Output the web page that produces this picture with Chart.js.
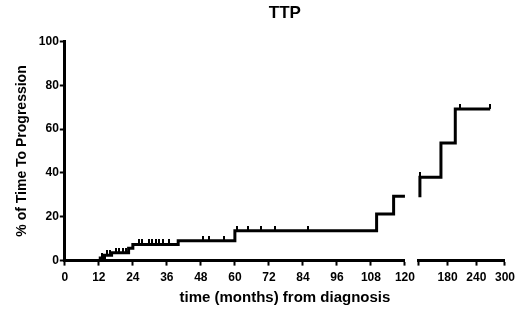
<!DOCTYPE html>
<html>
<head>
<meta charset="utf-8">
<script src="https://cdn.jsdelivr.net/npm/chart.js@4/dist/chart.umd.min.js"></script>
<style>
  html, body { margin: 0; padding: 0; background: #fff; }
  #wrap { width: 520px; height: 309px; }
</style>
</head>
<body>
<div id="wrap"><canvas id="ttp" width="520" height="309"></canvas></div>
<script>
// curve before the axis break (months, %)
const leftTimes = [11.5, 12.5, 14, 16.5, 22.5, 24, 40, 60, 110, 116, 120];
const leftValues = [0, 1.2, 2.4, 3.6, 5.6, 7.4, 9.0, 13.6, 21.3, 29.4, 29.4];
// curve after the axis break
const rightTimes = [122, 122, 166, 196, 269];
const rightValues = [28.9, 38, 53.7, 69.2, 69.2];
// censored observations
const censorLeftTimes = [13.2, 15, 15.8, 18, 19.2, 20.5, 21.5, 26.2, 27.4, 29.8, 30.9, 32.1, 33.3, 34.5, 36.8, 48.6, 50.9, 56, 60.7, 64.5, 69.2, 74.1, 85.9];
const censorLeftValues = [1.2, 2.4, 2.4, 3.6, 3.6, 3.6, 3.6, 7.4, 7.4, 7.4, 7.4, 7.4, 7.4, 7.4, 7.4, 9.0, 9.0, 9.0, 13.6, 13.6, 13.6, 13.6, 13.6];
const censorRightTimes = [122, 205, 269];
const censorRightValues = [38, 69.2, 69.2];

const leftTicks = [0, 12, 24, 36, 48, 60, 72, 84, 96, 108, 120];
const rightTicks = [120, 180, 240, 300];
const yTicks = [0, 20, 40, 60, 80, 100];

const toPoints = (xs, ys) => xs.map((x, i) => ({ x: x, y: ys[i] }));

// small tick mark sitting on top of the curve
const censorMark = document.createElement('canvas');
censorMark.width = 2;
censorMark.height = 10;
const cctx = censorMark.getContext('2d');
cctx.fillStyle = '#000';
cctx.fillRect(0, 0, 2, 5);

const boldFont = (size, lineHeight) => ({ family: 'Liberation Sans, Arial, sans-serif', size: size, weight: 'bold', lineHeight: lineHeight || 1.2 });

function xAxis(min, max, tickList, weight, hideFirst) {
    return {
        type: 'linear',
        position: 'bottom',
        stack: 'time',
        stackWeight: weight,
        min: min,
        max: max,
        afterBuildTicks: axis => { axis.ticks = tickList.map(v => ({ value: v })); },
        ticks: {
            color: '#000',
            font: boldFont(12),
            padding: 5,
            maxRotation: 0,
            autoSkip: false,
            callback: v => (hideFirst && v === min) ? '' : v
        },
        grid: { drawOnChartArea: false, tickLength: 5, tickWidth: 2, tickColor: '#000' },
        border: { color: '#000', width: 3 }
    };
}

new Chart(document.getElementById('ttp').getContext('2d'), {
    type: 'line',
    data: {
        datasets: [{
            data: toPoints(leftTimes, leftValues),
            xAxisID: 'xa',
            stepped: true,
            borderColor: '#000',
            borderWidth: 3,
            pointRadius: 0,
            clip: 6
        }, {
            data: toPoints(rightTimes, rightValues),
            xAxisID: 'xb',
            stepped: true,
            borderColor: '#000',
            borderWidth: 3,
            pointRadius: 0,
            clip: 6
        }, {
            data: toPoints(censorLeftTimes, censorLeftValues),
            xAxisID: 'xa',
            showLine: false,
            pointStyle: censorMark,
            clip: 6
        }, {
            data: toPoints(censorRightTimes, censorRightValues),
            xAxisID: 'xb',
            showLine: false,
            pointStyle: censorMark,
            clip: 6
        }]
    },
    options: {
        responsive: false,
        animation: false,
        layout: { padding: { left: 14, right: 15, top: 0, bottom: 2 } },
        plugins: {
            legend: { display: false },
            tooltip: { enabled: false },
            title: {
                display: true,
                text: 'TTP',
                fullSize: false,
                color: '#000',
                font: boldFont(17),
                padding: { top: 3, bottom: 18 }
            },
            subtitle: {
                display: true,
                position: 'bottom',
                text: 'time (months) from diagnosis',
                fullSize: false,
                color: '#000',
                font: boldFont(15, 1.0),
                padding: { top: 0, bottom: 2 }
            }
        },
        scales: {
            xa: xAxis(0, 120, leftTicks, 340, false),
            xgap: {
                type: 'linear',
                position: 'bottom',
                stack: 'time',
                stackWeight: 14,
                ticks: { display: false },
                grid: { display: false },
                border: { display: false }
            },
            xb: xAxis(120, 300, rightTicks, 86, true),
            y: {
                min: 0,
                max: 100,
                afterBuildTicks: axis => { axis.ticks = yTicks.map(v => ({ value: v })); },
                ticks: { color: '#000', font: boldFont(12), padding: 1 },
                grid: { drawOnChartArea: false, tickLength: 5, tickWidth: 2, tickColor: '#000' },
                border: { color: '#000', width: 3 },
                title: {
                    display: true,
                    text: '% of Time To Progression',
                    color: '#000',
                    font: boldFont(14),
                    padding: { top: 0, bottom: 7 }
                }
            }
        }
    }
});
</script>
</body>
</html>
